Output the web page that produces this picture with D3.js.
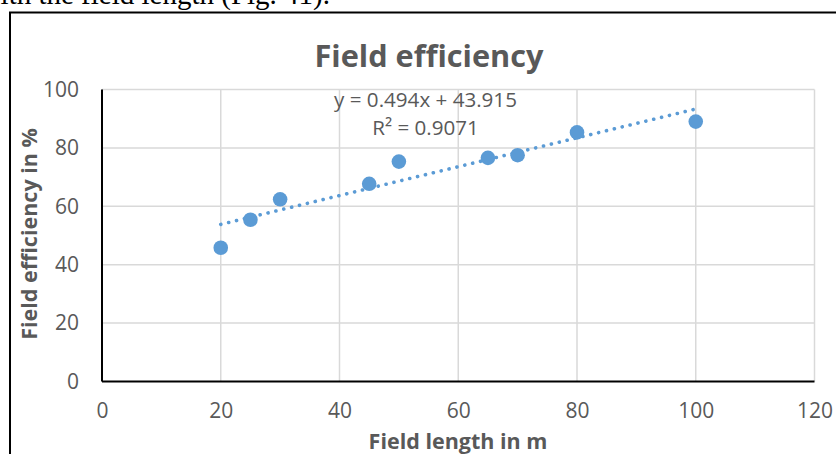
<!DOCTYPE html>
<html>
<head>
<meta charset="utf-8">
<script src="https://cdn.jsdelivr.net/npm/d3@7"></script>
<style>
  html, body { margin: 0; padding: 0; background: #fff; overflow: hidden; }
  svg { display: block; }
</style>
</head>
<body>
<svg id="chart" width="836" height="454"></svg>
<script>
// Field length (m) and measured field efficiency (%)
const fieldLength = [20, 25, 30, 45, 50, 65, 70, 80, 100];
const fieldEfficiency = [45.8, 55.4, 62.4, 67.7, 75.3, 76.6, 77.5, 85.3, 89.0];

// Linear trendline as reported
const trendSlope = 0.494;
const trendIntercept = 43.915;
const trendR2 = 0.9071;

const xTicks = [0, 20, 40, 60, 80, 100, 120];
const yTicks = [0, 20, 40, 60, 80, 100];

const chartTitle = "Field efficiency";
const xTitle = "Field length in m";
const yTitle = "Field efficiency in %";
const captionText = "ith the field length (Fig. 41).";

const svg = d3.select("#chart");
const font = "'Open Sans', 'Liberation Sans', sans-serif";
const textGrey = "#595959";
const markerBlue = "#5B9BD5";

const x = d3.scaleLinear().domain([0, 120]).range([102, 814.5]);
const y = d3.scaleLinear().domain([0, 100]).range([381.5, 89.5]);

// Caption line of the surrounding document, clipped at the top
svg.append("text")
  .attr("x", 330).attr("y", 4)
  .attr("text-anchor", "end")
  .attr("font-family", "'Liberation Serif', 'Times New Roman', serif")
  .attr("font-size", 29)
  .attr("fill", "#000")
  .text(captionText);

// Outer chart frame (left and top edges visible)
svg.append("path")
  .attr("d", "M10,460 L10,12.5 L840,12.5")
  .attr("fill", "none")
  .attr("stroke", "#000")
  .attr("stroke-width", 2);

// Gridlines
const grid = svg.append("g").attr("stroke", "#d9d9d9").attr("stroke-width", 1.5);
grid.selectAll("line.h").data(yTicks.filter(d => d > 0)).join("line")
  .attr("class", "h")
  .attr("x1", x(0)).attr("x2", x(120))
  .attr("y1", d => y(d)).attr("y2", d => y(d));
grid.selectAll("line.v").data(xTicks.filter(d => d > 0)).join("line")
  .attr("class", "v")
  .attr("x1", d => x(d)).attr("x2", d => x(d))
  .attr("y1", y(0)).attr("y2", y(100));

// Axes
const xAxis = d3.axisBottom(x).tickValues(xTicks).tickSize(0).tickPadding(22);
const yAxis = d3.axisLeft(y).tickValues(yTicks).tickSize(0).tickPadding(23);

const gx = svg.append("g").attr("transform", `translate(0,${y(0)})`).call(xAxis);
const gy = svg.append("g").attr("transform", `translate(${x(0)},0)`).call(yAxis);
[gx, gy].forEach(g => {
  g.select(".domain").attr("stroke", "#000").attr("stroke-width", 2);
  g.selectAll("text")
    .attr("font-family", font)
    .attr("font-size", 21)
    .attr("fill", textGrey);
});
gy.select(".domain").attr("d", `M0,${y(100)}V${y(0)}`);
gx.select(".domain").attr("d", `M0,0H${x(120) - x(0)}`).attr("transform", `translate(${x(0)},0)`);

// Trendline
const trendX = [d3.min(fieldLength), d3.max(fieldLength)];
svg.append("line")
  .attr("x1", x(trendX[0])).attr("y1", y(trendSlope * trendX[0] + trendIntercept))
  .attr("x2", x(trendX[1])).attr("y2", y(trendSlope * trendX[1] + trendIntercept))
  .attr("stroke", markerBlue)
  .attr("stroke-width", 3.6)
  .attr("stroke-linecap", "round")
  .attr("stroke-dasharray", "0.1 8");

// Data points
svg.append("g").selectAll("circle")
  .data(fieldLength.map((d, i) => [d, fieldEfficiency[i]]))
  .join("circle")
  .attr("cx", d => x(d[0]))
  .attr("cy", d => y(d[1]))
  .attr("r", 7.3)
  .attr("fill", markerBlue);

// Trendline equation and R²
const eq = svg.append("g")
  .attr("font-family", font)
  .attr("font-size", 20.6)
  .attr("fill", textGrey)
  .attr("text-anchor", "middle");
eq.append("text").attr("x", 425.5).attr("y", 106.5)
  .text(`y = ${trendSlope}x + ${trendIntercept}`);
eq.append("text").attr("x", 425.5).attr("y", 135)
  .text(`R² = ${trendR2}`);

// Title
svg.append("text")
  .attr("x", 429).attr("y", 66.5)
  .attr("text-anchor", "middle")
  .attr("font-family", font)
  .attr("font-weight", "bold")
  .attr("font-size", 30.7)
  .attr("fill", textGrey)
  .text(chartTitle);

// Axis titles
svg.append("text")
  .attr("x", 458).attr("y", 449)
  .attr("text-anchor", "middle")
  .attr("font-family", font)
  .attr("font-weight", "bold")
  .attr("font-size", 21.5)
  .attr("fill", textGrey)
  .text(xTitle);

svg.append("text")
  .attr("transform", "translate(36.5,234) rotate(-90)")
  .attr("text-anchor", "middle")
  .attr("font-family", font)
  .attr("font-weight", "bold")
  .attr("font-size", 21.5)
  .attr("fill", textGrey)
  .text(yTitle);
</script>
</body>
</html>
